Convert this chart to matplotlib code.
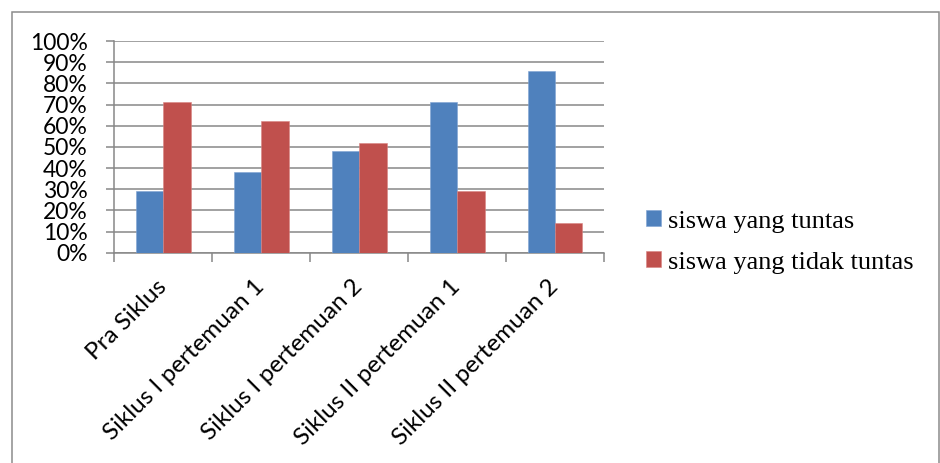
import matplotlib
matplotlib.use("Agg")
import matplotlib.pyplot as plt
import numpy as np
from matplotlib.patches import Rectangle
from matplotlib.ticker import PercentFormatter

categories = ["Pra Siklus", "Siklus I pertemuan 1", "Siklus I pertemuan 2",
              "Siklus II pertemuan 1", "Siklus II pertemuan 2"]
tuntas = [29, 38, 48, 71, 86]
tidak_tuntas = [71, 62, 52, 29, 14]
series_names = ["siswa yang tuntas", "siswa yang tidak tuntas"]
yticks = list(range(0, 101, 10))

BLUE = "#4F81BD"
RED = "#C0504D"
GRID = "#878787"

fig = plt.figure(figsize=(9.40, 4.63), dpi=100)
ax = fig.add_axes([114.3 / 940, 1 - 252.7 / 463, (604 - 114.3) / 940, (252.7 - 41) / 463])

x = np.arange(len(categories))
w = 0.28
ax.bar(x - w / 2, tuntas, width=w, color=BLUE, edgecolor="#7FA3D3", linewidth=0.4,
       label=series_names[0], zorder=3)
ax.bar(x + w / 2, tidak_tuntas, width=w, color=RED, edgecolor="#D88482", linewidth=0.4,
       label=series_names[1], zorder=3)

ax.set_xlim(-0.5, len(categories) - 0.5)
ax.set_ylim(0, 100)
ax.set_yticks(yticks)
ax.yaxis.set_major_formatter(PercentFormatter(decimals=0))
ax.grid(axis="y", color=GRID, linewidth=1.1, zorder=0)

for s in ["top", "right"]:
    ax.spines[s].set_visible(False)
for s in ["left", "bottom"]:
    ax.spines[s].set_color(GRID)
    ax.spines[s].set_linewidth(1.1)

ax.tick_params(axis="y", length=5.8, width=1.1, color=GRID, pad=13.5,
               labelsize=16.5, labelcolor="black")
for lab in ax.get_yticklabels():
    lab.set_fontfamily("Lato")

# x ticks at category boundaries, labels at centers
ax.set_xticks(np.arange(len(categories) + 1) - 0.5)
ax.set_xticklabels([])
ax.tick_params(axis="x", which="major", length=6.5, width=1.1, color=GRID)
ax.set_xticks(x, minor=True)
ax.set_xticklabels(categories, minor=True, rotation=45, ha="right", va="center",
                   rotation_mode="anchor", fontsize=17.5, fontfamily="Lato")
ax.tick_params(axis="x", which="minor", length=0, pad=22)

leg = ax.legend(loc="center left", bbox_to_anchor=(646 / 940, 1 - 242 / 463),
                bbox_transform=fig.transFigure, frameon=False,
                prop={"family": "Liberation Serif", "size": 19},
                handlelength=0.55, handleheight=0.55, handletextpad=0.3,
                labelspacing=0.7, borderpad=0, borderaxespad=0)

fig.patches.append(Rectangle((12 / 940, -0.1), (939 - 12) / 940, 1.1 - 12 / 463,
                             transform=fig.transFigure, fill=False,
                             edgecolor="#8C8C8C", linewidth=1.1))

fig.savefig("out.png", dpi=100)
